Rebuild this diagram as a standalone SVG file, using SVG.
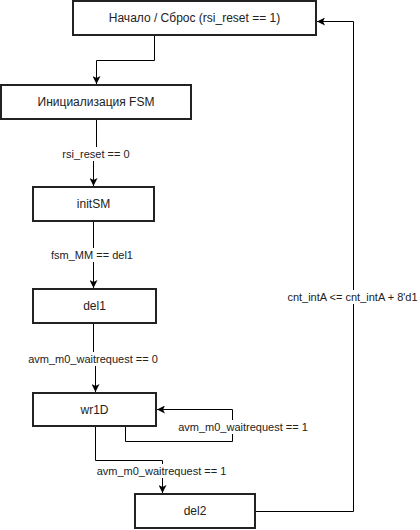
<svg xmlns="http://www.w3.org/2000/svg" width="420" height="530" viewBox="0 0 420 530">
<style>
.box{fill:#fff;stroke:#222;stroke-width:2}
.t{font-family:"Liberation Sans",Arial,sans-serif;font-size:12px;fill:#222;text-anchor:middle;dominant-baseline:central}
.l{font-family:"Liberation Sans",Arial,sans-serif;font-size:11px;fill:#222;text-anchor:middle;dominant-baseline:central}
.c{fill:none;stroke:#000;stroke-width:1}
.bg{fill:#fff}
</style>
<defs>
<marker id="a" viewBox="0 0 10 10" refX="10" refY="5" markerWidth="8" markerHeight="8" markerUnits="userSpaceOnUse" orient="auto">
<path d="M0,0 L10,5 L0,10 L2.5,5 Z" fill="#000"/>
</marker>
</defs>
<g id="connectors">
<path class="c" d="M154.5,35 V60.5 H96.5 V84" marker-end="url(#a)"/>
<path class="c" d="M96.5,119 V154 H93.5 V186" marker-end="url(#a)"/>
<path class="c" d="M93.5,221 V288" marker-end="url(#a)"/>
<path class="c" d="M93.5,323 V359 H95.5 V392" marker-end="url(#a)"/>
<path class="c" d="M125.5,426 V441.5 H232.5 V409.5 H157" marker-end="url(#a)"/>
<path class="c" d="M95.5,426 V460.5 H162.5 V493" marker-end="url(#a)"/>
<path class="c" d="M255,511.5 H353.5 V21.5 H317" marker-end="url(#a)"/>
<rect class="bg" x="58" y="147" width="76" height="14"/>
<text class="l" x="96" y="154">rsi_reset == 0</text>
<rect class="bg" x="48" y="248" width="88" height="14"/>
<text class="l" x="92" y="255">fsm_MM == del1</text>
<rect class="bg" x="28" y="352" width="130" height="14"/>
<text class="l" x="93" y="359">avm_m0_waitrequest == 0</text>
<rect class="bg" x="178" y="420" width="130" height="14"/>
<text class="l" x="243" y="427">avm_m0_waitrequest == 1</text>
<rect class="bg" x="96" y="464" width="131" height="14"/>
<text class="l" x="161.5" y="471">avm_m0_waitrequest == 1</text>
<rect class="bg" x="288" y="290" width="130" height="14"/>
<text class="l" x="352.5" y="297">cnt_intA &lt;= cnt_intA + 8'd1</text>
</g>
<g id="start"><rect class="box" x="73" y="1" width="243" height="34"/><text class="t" x="194.5" y="18">Начало / Сброс (rsi_reset == 1)</text></g>
<g id="init"><rect class="box" x="1" y="85" width="190" height="34"/><text class="t" x="96" y="102">Инициализация FSM</text></g>
<g id="initSM"><rect class="box" x="33" y="187" width="121" height="34"/><text class="t" x="93.5" y="204">initSM</text></g>
<g id="del1"><rect class="box" x="33" y="289" width="123" height="34"/><text class="t" x="94.5" y="306">del1</text></g>
<g id="wr1D"><rect class="box" x="33" y="393" width="123" height="33"/><text class="t" x="94.5" y="409.5">wr1D</text></g>
<g id="del2"><rect class="box" x="135" y="494" width="120" height="34"/><text class="t" x="195" y="511">del2</text></g>
</svg>
